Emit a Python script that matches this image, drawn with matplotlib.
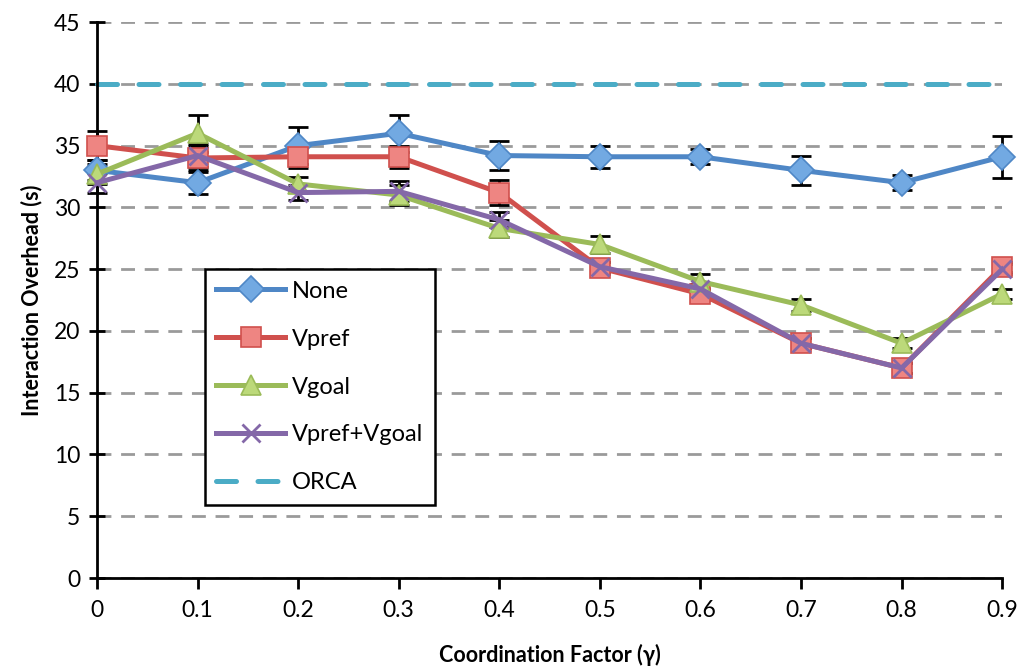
import matplotlib
matplotlib.use("Agg")
import matplotlib.pyplot as plt
from matplotlib.ticker import MultipleLocator

plt.rcParams['font.family'] = ['Lato', 'DejaVu Sans']

gamma = [0.0, 0.1, 0.2, 0.3, 0.4, 0.5, 0.6, 0.7, 0.8, 0.9]
x_tick_labels = ['0', '0.1', '0.2', '0.3', '0.4', '0.5', '0.6', '0.7', '0.8', '0.9']

none_vals = [33.0, 32.0, 35.0, 36.0, 34.2, 34.1, 34.1, 33.0, 32.0, 34.1]
none_err = [0.8, 0.9, 1.5, 1.5, 1.2, 0.9, 0.6, 1.2, 0.6, 1.7]

vpref_vals = [35.0, 34.0, 34.1, 34.1, 31.2, 25.1, 23.0, 19.0, 17.0, 25.2]
vpref_err = [1.2, 1.0, 0.9, 0.9, 1.0, 0.5, 0.5, 0.4, 0.4, 0.4]

vgoal_vals = [32.7, 36.0, 31.9, 31.0, 28.3, 27.0, 24.0, 22.1, 19.0, 23.0]
vgoal_err = [0.8, 1.5, 0.6, 0.8, 0.7, 0.7, 0.6, 0.5, 0.4, 0.4]

vboth_vals = [32.0, 34.2, 31.2, 31.3, 29.0, 25.2, 23.4, 19.0, 17.0, 25.0]
vboth_err = [0.8, 0.9, 0.6, 0.8, 0.6, 0.4, 0.4, 0.4, 0.4, 0.4]

orca_val = 40.0

fig = plt.figure(figsize=(10.24, 6.7), dpi=100)
ax = fig.add_axes([0.0947, 0.1373, 0.884, 0.8297])

series = [
    ('None', none_vals, none_err, '#4f87c6', 'D', '#72a9e2', 13),
    ('Vpref', vpref_vals, vpref_err, '#d0504d', 's', '#ee8582', 15),
    ('Vgoal', vgoal_vals, vgoal_err, '#9bbb59', '^', '#bcd97a', 15),
    ('Vpref+Vgoal', vboth_vals, vboth_err, '#8468a8', 'x', '#8468a8', 13),
]

for label, vals, err, color, marker, face, ms in series:
    ax.errorbar(gamma, vals, yerr=err, fmt='none', ecolor='black',
                elinewidth=2, capsize=7, capthick=2, zorder=3, clip_on=False)
for label, vals, err, color, marker, face, ms in series:
    ax.plot(gamma, vals, color=color, lw=3.6, marker=marker, markersize=ms,
            markerfacecolor=face, markeredgecolor=color,
            markeredgewidth=2 if marker == 'x' else 1.2,
            label=label, zorder=4, clip_on=False)

ax.plot(gamma, [orca_val] * len(gamma), color='#4bacc6', lw=3.6,
        dashes=(4, 4.3), dash_capstyle='round', label='ORCA', zorder=2,
        clip_on=False)

ax.set_xlim(0, 0.9)
ax.set_ylim(0, 45)
ax.set_xticks(gamma)
ax.set_xticklabels(x_tick_labels)
ax.yaxis.set_major_locator(MultipleLocator(5))

ax.grid(axis='y', color='#9a9a9a', lw=2, dashes=(5, 3.5))
ax.set_axisbelow(True)
for side in ('top', 'right'):
    ax.spines[side].set_visible(False)
for side in ('left', 'bottom'):
    ax.spines[side].set_linewidth(2)
    ax.spines[side].set_color('black')

ax.tick_params(axis='y', direction='inout', length=12, width=2,
               labelsize=16.5, pad=6)
ax.tick_params(axis='x', direction='out', length=8, width=2,
               labelsize=16.5, pad=8)

ax.set_xlabel('Coordination Factor (γ)', fontsize=15.5, fontweight='bold',
              labelpad=16)
ax.set_ylabel('Interaction Overhead (s)', fontsize=15.5, fontweight='bold',
              labelpad=8)

leg = ax.legend(loc='lower left', bbox_to_anchor=(0.119, 0.131),
                fontsize=17, handlelength=2.9, labelspacing=1.14,
                borderpad=0.5, fancybox=False, framealpha=1,
                borderaxespad=0, handletextpad=0.3)
leg.get_frame().set_edgecolor('black')
leg.get_frame().set_linewidth(1.8)

fig.savefig('out.png', dpi=100)
